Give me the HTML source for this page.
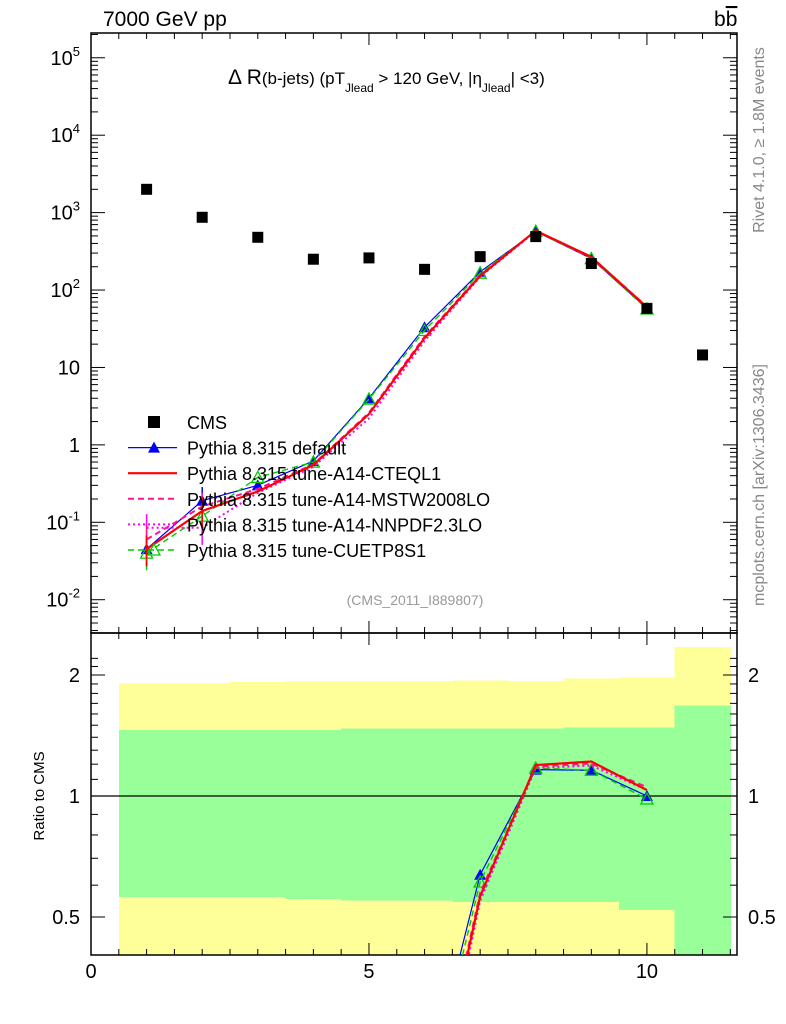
<!DOCTYPE html>
<html><head><meta charset="utf-8"><style>
html,body{margin:0;padding:0;background:#fff;overflow:hidden;width:786px;height:1024px}
svg{display:block}
svg text{font-family:"Liberation Sans",sans-serif}
</style></head><body>
<svg id="c" width="786" height="1024" xmlns="http://www.w3.org/2000/svg"></svg>
<script>
const xs=[1,2,3,4,5,6,7,8,9,10,11];
const cms=[2000,870,480,250,260,185,270,490,220,58,14.5];
const mcX=[1,2,3,4,5,6,7,8,9,10];
const mcDefault=[0.045,0.19,0.30,0.62,4.0,33,172,570,255,58];
const mcCTEQ=[0.045,0.14,0.25,0.55,2.5,24,152,585,268,60];
const mcMSTW=[0.06,0.16,0.27,0.56,2.6,25,155,580,265,61];
const mcNNPDF=[0.085,0.085,0.24,0.52,2.2,22,148,575,262,60];
const mcCUET=[0.04,0.12,0.38,0.60,3.9,30,165,575,255,57];
const bandLo=[0.5,1.5,2.5,3.5,4.5,5.5,6.5,7.5,8.5,9.5,10.5];
const yelUp=[1.91,1.91,1.92,1.93,1.93,1.93,1.94,1.93,1.96,1.97,2.35];
const grnUp=[1.46,1.46,1.46,1.46,1.47,1.47,1.47,1.47,1.48,1.48,1.68];
const grnLo=[0.56,0.56,0.56,0.555,0.55,0.55,0.545,0.545,0.545,0.52,0.2];
const yelLo=[0.2,0.2,0.2,0.2,0.2,0.2,0.2,0.2,0.2,0.2,0.2];
const yTicksMain=[["10^5",1e5],["10^4",1e4],["10^3",1e3],["10^2",100],["10",10],["1",1],["10^-1",0.1],["10^-2",0.01]];
const xTicks=[0,5,10];
const rTicks=[2,1,0.5];

const S=document.getElementById('c'),NS="http://www.w3.org/2000/svg";
const L=91,R=737,T=33,MB=633,RB=955;
const XMAX=11.62;
const X=v=>L+(R-L)*v/XMAX;
const LMAX=5.32,LMIN=-2.43;
const Y=v=>T+(MB-T)*(LMAX-Math.log10(v))/(LMAX-LMIN);
const RY=v=>796-121*Math.log2(v);
function el(t,a,p){const e=document.createElementNS(NS,t);for(const k in a)e.setAttribute(k,a[k]);(p||S).appendChild(e);return e;}
const defs=el('defs',{});
const cp1=el('clipPath',{id:'cm'},defs);el('rect',{x:L,y:T,width:R-L,height:MB-T},cp1);
const cp2=el('clipPath',{id:'cr'},defs);el('rect',{x:L,y:MB,width:R-L,height:RB-MB},cp2);
const gb=el('g',{'clip-path':'url(#cr)','shape-rendering':'crispEdges'});

bandLo.forEach((b,i)=>{
 const r1=el('rect',{x:X(b),y:RY(yelUp[i]),width:X(b+1)-X(b)+0.6,height:RY(yelLo[i])-RY(yelUp[i]),fill:'#ffff99'},gb);
 
 const r2=el('rect',{x:X(b),y:RY(grnUp[i]),width:X(b+1)-X(b)+0.6,height:RY(grnLo[i])-RY(grnUp[i]),fill:'#99ff99'},gb);
 
});
el('line',{x1:L,x2:R,y1:RY(1),y2:RY(1),stroke:'#000','stroke-width':1.2});
for(const [a,b,n] of [[T,MB,'main-frame'],[MB,RB,'ratio-frame']]){
 const f=el('rect',{x:L,y:a,width:R-L,height:b-a,fill:'none',stroke:'#000','stroke-width':1.5});
 
}
function txt(s,x,y,o,p){const e=el('text',Object.assign({x:x,y:y,'font-size':19},o||{}),p);e.innerHTML=s;return e;}
for(let v=0;v<=11.5;v+=0.5){
 const big=v%5===0,h=big?12:6;
 for(const [a,b] of [[T,MB],[MB,RB]]){
  el('line',{x1:X(v),x2:X(v),y1:b,y2:b-h,stroke:'#000'});
  el('line',{x1:X(v),x2:X(v),y1:a,y2:a+h,stroke:'#000'});
 }
}
xTicks.forEach(v=>{const t=txt(v,X(v),978,{'text-anchor':'middle','font-size':20});});
for(let d=-3;d<=5;d++)for(let m=1;m<10;m++){const v=m*Math.pow(10,d);const y=Y(v);if(y<T||y>MB)continue;const h=m===1?14:7;
 el('line',{x1:L,x2:L+h,y1:y,y2:y,stroke:'#000'});el('line',{x1:R,x2:R-h,y1:y,y2:y,stroke:'#000'});}
yTicksMain.forEach(([s,v])=>{let t;
 if(s.includes('^')){const [b,e]=s.split('^');t=txt(b+'<tspan dy="-9" font-size="13">'+e+'</tspan>',80,Y(v)+7,{'text-anchor':'end','font-size':20});}
 else t=txt(s,80,Y(v)+7,{'text-anchor':'end','font-size':20});
 });
[0.4,0.5,0.6,0.7,0.8,0.9,1,1.1,1.2,1.3,1.4,1.5,1.6,1.7,1.8,1.9,2,2.1,2.2].forEach(v=>{const y=RY(v);if(y<MB||y>RB)return;const big=[0.5,1,2].includes(v);const h=big?14:7;
 el('line',{x1:L,x2:L+h,y1:y,y2:y,stroke:'#000'});el('line',{x1:R,x2:R-h,y1:y,y2:y,stroke:'#000'});});
rTicks.forEach(v=>{const t=txt(v,80,RY(v)+7,{'text-anchor':'end','font-size':20});
 const t2=txt(v,748,RY(v)+7,{'font-size':20});});
const series=[
 {d:mcDefault,c:'#0000ff',w:1.2,dash:'',m:'tri',n:'series-default'},
 {d:mcCUET,c:'#00cc00',w:1.4,dash:'6,4',m:'otri',n:'series-cuetp8s1'},
 {d:mcNNPDF,c:'#ff00ff',w:2,dash:'2,3',m:'',n:'series-nnpdf'},
 {d:mcMSTW,c:'#ff1493',w:2,dash:'6,4',m:'',n:'series-mstw'},
 {d:mcCTEQ,c:'#ff0000',w:2.2,dash:'',m:'',n:'series-cteql1'}];
function marker(g,m,x,y,c){if(m==='tri')el('polygon',{points:`${x},${y-6} ${x-6},${y+5} ${x+6},${y+5}`,fill:c},g);
 if(m==='otri')el('polygon',{points:`${x},${y-6} ${x-6},${y+5} ${x+6},${y+5}`,fill:'none',stroke:c,'stroke-width':1.3},g);}
series.forEach(s=>{
 const g=el('g',{'clip-path':'url(#cm)'});
 el('polyline',{points:mcX.map((x,i)=>X(x)+','+Y(s.d[i])).join(' '),fill:'none',stroke:s.c,'stroke-width':s.w,'stroke-dasharray':s.dash},g);
 mcX.forEach((x,i)=>{if(i<2)el('line',{x1:X(x),x2:X(x),y1:Y(s.d[i]*0.6),y2:Y(s.d[i]*1.5),stroke:s.c,'stroke-width':1.5},g);marker(g,s.m,X(x),Y(s.d[i]),s.c);});
 const gr=el('g',{'clip-path':'url(#cr)'});
 el('polyline',{points:mcX.map((x,i)=>X(x)+','+RY(s.d[i]/cms[i])).join(' '),fill:'none',stroke:s.c,'stroke-width':s.w,'stroke-dasharray':s.dash},gr);
 mcX.forEach((x,i)=>marker(gr,s.m,X(x),RY(s.d[i]/cms[i]),s.c));
});
const gc=el('g',{});
xs.forEach((x,i)=>{const r=el('rect',{x:X(x)-5.5,y:Y(cms[i])-5.5,width:11,height:11,fill:'#000'},gc);});
const lg=el('g',{});
const items=[['CMS','#000','','sq',1],['Pythia 8.315 default','#0000ff','','tri',1.2],['Pythia 8.315 tune-A14-CTEQL1','#ff0000','','',2.2],['Pythia 8.315 tune-A14-MSTW2008LO','#ff1493','6,4','',2],['Pythia 8.315 tune-A14-NNPDF2.3LO','#ff00ff','2,3','',2],['Pythia 8.315 tune-CUETP8S1','#00cc00','6,4','otri',1.4]];
items.forEach((it,i)=>{const y=422+25.6*i;const g=el('g',{},lg);
 if(it[3]==='sq')el('rect',{x:148,y:y-6,width:12,height:12,fill:'#000'},g);
 else{el('line',{x1:128,x2:177,y1:y,y2:y,stroke:it[1],'stroke-width':it[4],'stroke-dasharray':it[2]},g);marker(g,it[3],154,y,it[1]);}
 txt(it[0],187,y+7,{'font-size':18},g);});
let t=txt('7000 GeV pp',103,26,{'font-size':21});
t=txt('b<tspan text-decoration="overline">b</tspan>',714,26,{'font-size':21});
t=txt('Δ R<tspan font-size="17">(b-jets) (pT</tspan><tspan font-size="12" dy="8">Jlead</tspan><tspan font-size="17" dy="-8"> &gt;  120 GeV, |η</tspan><tspan font-size="12" dy="8">Jlead</tspan><tspan font-size="17" dy="-8">| &lt;3)</tspan>',228,84,{'font-size':21});

t=txt('(CMS_2011_I889807)',415,605,{'font-size':14,fill:'#999','text-anchor':'middle'});
t=txt('Ratio to CMS',44,796,{'font-size':15,'text-anchor':'middle',transform:'rotate(-90 44 796)'});
t=txt('Rivet 4.1.0, ≥ 1.8M events',764,140,{'font-size':16,fill:'#888','text-anchor':'middle',transform:'rotate(-90 764 140)'});
t=txt('mcplots.cern.ch [arXiv:1306.3436]',764,485,{'font-size':16,fill:'#888','text-anchor':'middle',transform:'rotate(-90 764 485)'});
</script>
</body></html>
